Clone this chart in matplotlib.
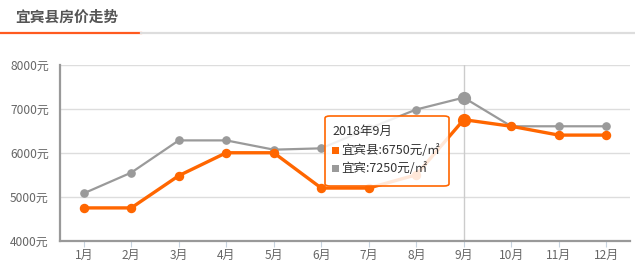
import matplotlib
matplotlib.use("Agg")
import matplotlib.pyplot as plt
from matplotlib.patches import FancyBboxPatch, Rectangle
from matplotlib.lines import Line2D

plt.rcParams['font.family'] = ['Noto Sans CJK SC', 'DejaVu Sans']

months = ['1月', '2月', '3月', '4月', '5月', '6月', '7月', '8月', '9月', '10月', '11月', '12月']
county = [4750, 4750, 5480, 6000, 6000, 5200, 5200, 5500, 6750, 6600, 6400, 6400]
city = [5080, 5550, 6280, 6280, 6070, 6100, 6550, 6980, 7250, 6600, 6600, 6600]
yticks = [4000, 5000, 6000, 7000, 8000]
ytick_labels = ['4000元', '5000元', '6000元', '7000元', '8000元']
title = '宜宾县房价走势'
tip_title = '2018年9月'
tip_county = '宜宾县:6750元/㎡'
tip_city = '宜宾:7250元/㎡'
hi = 8

ORANGE = '#ff6600'
GRAY = '#9a9a9a'

W, H = 635, 275
fig = plt.figure(figsize=(W / 100, H / 100), dpi=100)

def fx(px):
    return px / W

def fy(py):
    return 1 - py / H

# title and underline
fig.text(fx(15), fy(17), title, fontsize=10.6, fontweight='bold', color='#555555',
         va='center', ha='left')
fig.add_artist(Line2D([fx(0), fx(141)], [fy(33), fy(33)], color='#ff5a1f', lw=1.6))
fig.add_artist(Line2D([fx(141), fx(635)], [fy(33), fy(33)], color='#dddddd', lw=1.6))

left, right, top, bottom = 60, 630, 64.5, 241
ax = fig.add_axes([fx(left), fy(bottom), fx(right - left), (bottom - top) / H])
x = list(range(len(months)))
ax.set_xlim(-0.5, len(months) - 0.5)
ax.set_ylim(4000, 8000)

for v in yticks[1:]:
    ax.axhline(v, color='#dddddd', lw=1, zorder=0)
ax.axvline(hi, color='#cccccc', lw=1, zorder=1)

ax.plot(x, city, color=GRAY, lw=1.6, marker='o', ms=5.2, zorder=3, solid_capstyle='round')
ax.plot(x, county, color=ORANGE, lw=2.4, marker='o', ms=5.8, zorder=4, solid_capstyle='round')
ax.plot([hi], [city[hi]], marker='o', ms=8.5, color=GRAY, zorder=5)
ax.plot([hi], [county[hi]], marker='o', ms=8.5, color=ORANGE, zorder=5)

for s in ['top', 'right']:
    ax.spines[s].set_visible(False)
for s in ['left', 'bottom']:
    ax.spines[s].set_color('#999999')
    ax.spines[s].set_linewidth(1.6)

ax.set_yticks(yticks)
ax.set_yticklabels(ytick_labels)
ax.tick_params(axis='y', length=0, pad=8, labelsize=8.6, labelcolor='#666666')
ax.set_xticks(x)
ax.set_xticklabels(months)
ax.tick_params(axis='x', length=4, width=0.8, color='#c8d4e0', pad=2,
               labelsize=8.6, labelcolor='#666666')

# tooltip
tx0, ty0, tx1, ty1 = 325, 116, 449, 186
box = FancyBboxPatch((fx(tx0), fy(ty1)), fx(tx1 - tx0), (ty1 - ty0) / H,
                     boxstyle='round,pad=0,rounding_size=0.008',
                     transform=fig.transFigure, facecolor=(1, 1, 1, 0.85),
                     edgecolor=ORANGE, lw=1.2, zorder=10)
fig.add_artist(box)
fig.text(fx(332), fy(131), tip_title, fontsize=9, color='#333333', va='center', ha='left', zorder=11)
for i, (txt, col) in enumerate([(tip_county, ORANGE), (tip_city, GRAY)]):
    yy = 150 + i * 18.5
    fig.add_artist(Rectangle((fx(332), fy(yy + 3.5)), fx(7), 7 / H, transform=fig.transFigure,
                             facecolor=col, edgecolor='none', zorder=11))
    fig.text(fx(341), fy(yy), txt, fontsize=9, color='#333333', va='center', ha='left', zorder=11)

fig.savefig('out.png', dpi=100)
